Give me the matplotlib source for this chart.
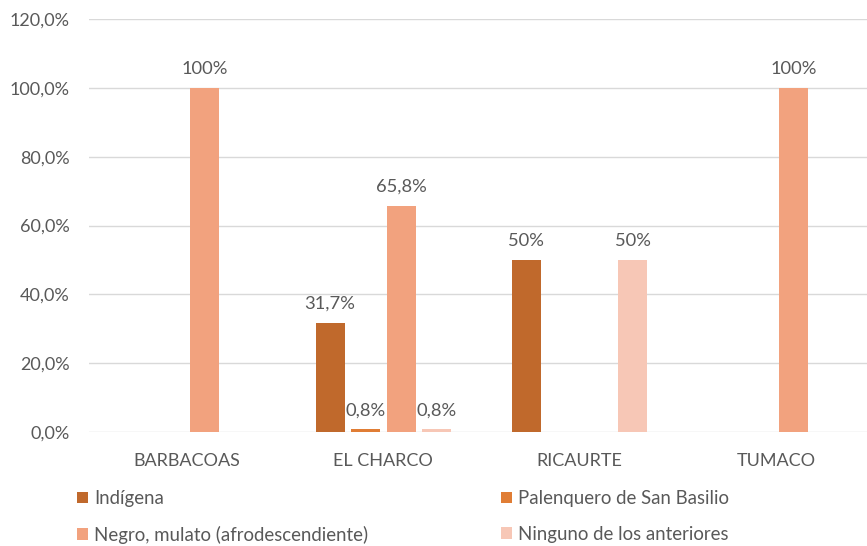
import matplotlib
matplotlib.use("Agg")
import matplotlib.pyplot as plt
import numpy as np
from matplotlib.ticker import FuncFormatter

categories = ["BARBACOAS", "EL CHARCO", "RICAURTE", "TUMACO"]
series_names = ["Indígena", "Palenquero de San Basilio",
                "Negro, mulato (afrodescendiente)", "Ninguno de los anteriores"]
indigena = [0, 31.7, 50, 0]
palenquero = [0, 0.8, 0, 0]
negro = [100, 65.8, 0, 100]
ninguno = [0, 0.8, 50, 0]
labels_indigena = ["", "31,7%", "50%", ""]
labels_palenquero = ["", "0,8%", "", ""]
labels_negro = ["100%", "65,8%", "", "100%"]
labels_ninguno = ["", "0,8%", "50%", ""]
yticks = [0, 20, 40, 60, 80, 100, 120]

colors = ["#C0692C", "#E07D35", "#F2A27E", "#F7C7B6"]
txt = "#595959"
plt.rcParams['font.family'] = ['Lato', 'DejaVu Sans']

fig = plt.figure(figsize=(8.67, 5.46), dpi=100)
ax = fig.add_axes([89/867, 1-432/546, 785/867, 413/546])

x = np.arange(len(categories))
step = 0.181
width = 0.148
data = [indigena, palenquero, negro, ninguno]
labs = [labels_indigena, labels_palenquero, labels_negro, labels_ninguno]
handles = []
for i, (vals, lab) in enumerate(zip(data, labs)):
    bars = ax.bar(x + (i - 1.5) * step, vals, width, color=colors[i],
                  label=series_names[i], zorder=3)
    handles.append(bars)
    ax.bar_label(bars, labels=lab, padding=8, fontsize=13.2, color=txt)

ax.set_ylim(0, 120)
ax.set_xlim(-0.5, 3.5)
ax.set_yticks(yticks)
ax.yaxis.set_major_formatter(FuncFormatter(lambda v, p: f"{v:.1f}%".replace(".", ",")))
ax.set_xticks(x)
ax.set_xticklabels(categories)
ax.tick_params(axis='both', length=0, labelsize=13, colors=txt)
ax.tick_params(axis='x', pad=15)
ax.tick_params(axis='y', pad=14)
ax.grid(axis='y', color='#D9D9D9', linewidth=1, zorder=0)
for s in ax.spines.values():
    s.set_visible(False)

common = dict(loc='upper left', frameon=False, fontsize=13.4, labelcolor=txt,
              handlelength=0.6, handleheight=0.6, handletextpad=0.3,
              labelspacing=1.0, borderaxespad=0, borderpad=0)
leg1 = fig.legend([handles[0], handles[2]], [series_names[0], series_names[2]],
                  bbox_to_anchor=(77/867, 1-490/546), **common)
leg2 = fig.legend([handles[1], handles[3]], [series_names[1], series_names[3]],
                  bbox_to_anchor=(501/867, 1-490/546), **common)
fig.savefig("out.png", dpi=100)
